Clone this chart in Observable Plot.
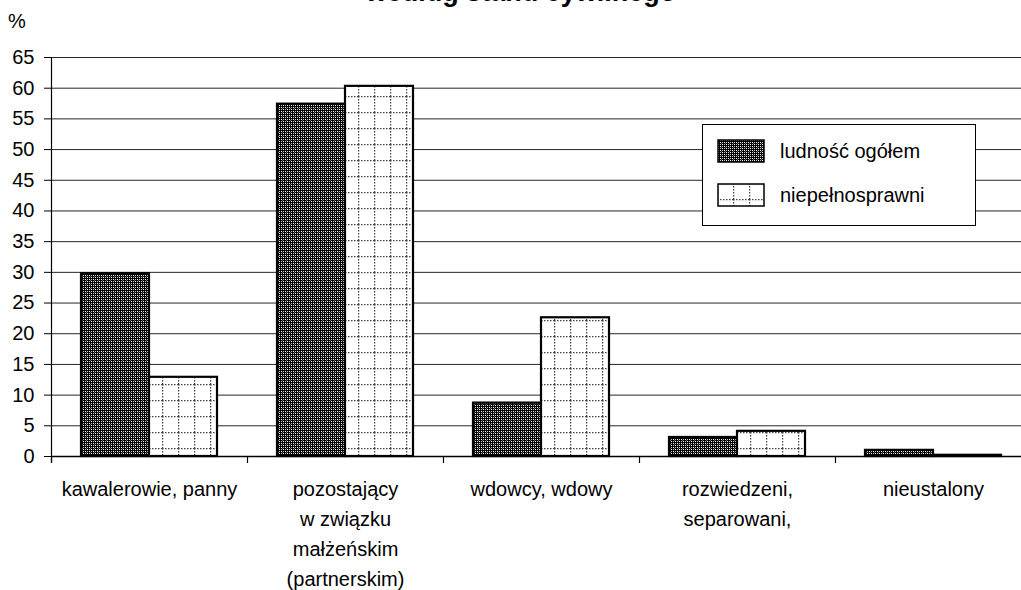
<!DOCTYPE html>
<html>
<head>
<meta charset="utf-8">
<script src="https://cdn.jsdelivr.net/npm/d3@7"></script>
<script src="https://cdn.jsdelivr.net/npm/@observablehq/plot@0.6"></script>
<style>
  html, body { margin: 0; padding: 0; background: #fff; }
  #wrap { position: relative; width: 1021px; height: 590px; overflow: hidden; background: #fff;
          font-family: "Liberation Sans", Arial, sans-serif; color: #000; }
  #title { position: absolute; left: 0; width: 1042px; top: -21px; text-align: center;
           font-weight: bold; font-size: 27px; line-height: 27px; white-space: nowrap; }
  #unit { position: absolute; left: 8px; top: 9px; font-size: 20px; line-height: 24px; }
  #legend { position: absolute; left: 702px; top: 124px; width: 274px; height: 102px;
            border: 1.5px solid #000; background: #fff; box-sizing: border-box; font-size: 20px; }
  .li { position: absolute; left: 14px; height: 26px; display: flex; align-items: center; }
  .li svg { display: block; margin-right: 15px; }
  #chart { position: absolute; left: 0; top: 0; }
  #chart svg { max-width: none !important; }
</style>
</head>
<body>
<svg width="0" height="0" style="position:absolute">
  <defs>
    <pattern id="pDark" patternUnits="userSpaceOnUse" width="4" height="4">
      <rect width="4" height="4" fill="#000"/>
      <rect x="0" y="0" width="1" height="1" fill="#555"/>
      <rect x="1" y="1" width="1" height="1" fill="#fff"/>
      <rect x="3" y="3" width="1" height="1" fill="#fff"/>
      <rect x="1" y="3" width="1" height="1" fill="#ccc"/>
      <rect x="3" y="1" width="1" height="1" fill="#ccc"/>
    </pattern>
    <pattern id="pLight" patternUnits="userSpaceOnUse" width="16" height="16">
      <rect width="16" height="16" fill="#fff"/>
      <line x1="0" y1="0.5" x2="16" y2="0.5" stroke="#444" stroke-width="1.5" stroke-dasharray="1.5,1.5"/>
      <line x1="0.5" y1="0" x2="0.5" y2="16" stroke="#444" stroke-width="1.5" stroke-dasharray="1.5,1.5"/>
    </pattern>
  </defs>
</svg>
<div id="wrap">
  <div id="chart"></div>
  <div id="title">według stanu cywilnego</div>
  <div id="unit">%</div>
  <div id="legend"></div>
</div>
<script>
const categories = [
  "kawalerowie, panny",
  "pozostający\nw związku\nmałżeńskim\n(partnerskim)",
  "wdowcy, wdowy",
  "rozwiedzeni,\nseparowani,",
  "nieustalony"
];
const series = ["ludność ogółem", "niepełnosprawni"];
const ludnoscOgolem = [29.8, 57.4, 8.7, 3.1, 1.0];
const niepelnosprawni = [12.9, 60.3, 22.6, 4.1, 0.2];
const yTicks = [0, 5, 10, 15, 20, 25, 30, 35, 40, 45, 50, 55, 60, 65];
const patterns = ["url(#pDark)", "url(#pLight)"];

const data = [];
categories.forEach((c, i) => {
  data.push({category: c, series: series[0], value: ludnoscOgolem[i]});
  data.push({category: c, series: series[1], value: niepelnosprawni[i]});
});

const plot = Plot.plot({
  width: 1032,
  height: 590,
  marginLeft: 49,
  marginRight: 0,
  marginTop: 57,
  marginBottom: 134,
  style: {fontFamily: "'Liberation Sans', Arial, sans-serif", fontSize: "20px", background: "transparent", color: "#000", overflow: "visible", maxWidth: "none"},
  fx: {domain: categories, padding: 0, label: null},
  x: {domain: series, paddingInner: 0, paddingOuter: 0.43, axis: null},
  y: {domain: [0, 65], label: null},
  color: {domain: series, range: patterns},
  marks: [
    Plot.gridY(yTicks, {stroke: "#000", strokeOpacity: 0.85, strokeWidth: 1}),
    Plot.barY(data, {fx: "category", x: "series", y: "value", fill: "series", stroke: "#000", strokeWidth: 2.2}),
    Plot.ruleY([0], {stroke: "#000", strokeWidth: 1.5}),
    Plot.axisY(yTicks, {tickSize: 7, tickPadding: 10, label: null, fontSize: 20, stroke: "#000"}),
    Plot.axisFx({anchor: "bottom", tickSize: 0, tickPadding: 18, lineHeight: 1.5, label: null, fontSize: 20})
  ]
});
document.getElementById("chart").appendChild(plot);

// axis line and category boundary ticks, positioned from Plot's own scales
const fx = plot.scale("fx");
const y = plot.scale("y");
const svg = d3.select(plot);
const y0 = y.apply(0);
const yTop = y.apply(65);
const bounds = categories.map(c => fx.apply(c)).concat([fx.apply(categories[categories.length - 1]) + fx.bandwidth]);
const g = svg.append("g").attr("stroke", "#000").attr("stroke-width", 1.2);
g.append("line").attr("x1", bounds[0] + 0.5).attr("x2", bounds[0] + 0.5).attr("y1", yTop).attr("y2", y0 + 7);
bounds.forEach(b => {
  g.append("line").attr("x1", b + 0.5).attr("x2", b + 0.5).attr("y1", y0).attr("y2", y0 + 7);
});

// legend
const legend = document.getElementById("legend");
series.forEach((s, i) => {
  const item = document.createElement("div");
  item.className = "li";
  item.style.top = (i === 0 ? 13 : 57) + "px";
  item.innerHTML = `<svg width="48" height="24"><rect x="1" y="1" width="46" height="22" fill="${patterns[i]}" stroke="#000" stroke-width="1.5"/></svg><span>${s}</span>`;
  legend.appendChild(item);
});
</script>
</body>
</html>
